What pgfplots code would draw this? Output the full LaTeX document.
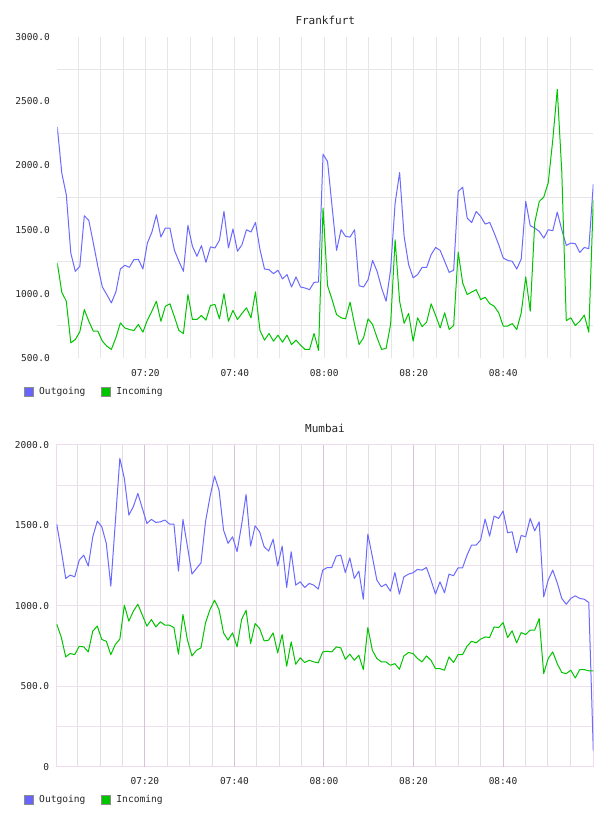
\documentclass[border=0pt]{standalone}
\usepackage{pgfplots}
\usepackage{pgfplotstable}
\pgfplotsset{compat=1.18}
\usepackage{fontspec}
\setmainfont{DejaVu Sans Mono}
\definecolor{outblue}{HTML}{6A6AFF}
\definecolor{inblue}{HTML}{6666FF}
\definecolor{ingreen}{HTML}{00C400}
\definecolor{gridgray}{HTML}{E6E6E6}
\definecolor{framepink}{HTML}{EEDCEE}
\definecolor{hgridpink}{HTML}{EEE0EE}
\definecolor{vgridgray}{HTML}{E4DEE4}
\definecolor{vmajpurple}{HTML}{D9C2D9}

\pgfplotstableread{
i out in
0 2300 1240
1 1939 1012
2 1771 942
3 1317 618
4 1175 644
5 1214 704
6 1608 877
7 1571 786
8 1395 709
9 1214 709
10 1053 631
11 993 592
12 929 567
13 1014 657
14 1193 773
15 1222 734
16 1206 722
17 1266 714
18 1268 761
19 1193 701
20 1395 795
21 1480 865
22 1615 942
23 1442 786
24 1512 903
25 1512 922
26 1339 821
27 1253 714
28 1175 691
29 1533 994
30 1370 800
31 1292 800
32 1375 831
33 1245 795
34 1365 909
35 1357 917
36 1417 805
37 1642 1001
38 1357 786
39 1505 871
40 1331 800
41 1382 847
42 1499 891
43 1481 813
44 1556 1014
45 1344 714
46 1193 639
47 1188 691
48 1157 631
49 1183 678
50 1116 623
51 1150 678
52 1053 605
53 1131 639
54 1053 600
55 1045 567
56 1032 567
57 1089 691
58 1092 559
59 2087 1668
60 2030 1063
61 1680 955
62 1338 838
63 1499 813
64 1447 805
65 1442 935
66 1499 761
67 1063 605
68 1053 657
69 1110 805
70 1260 761
71 1175 657
72 1045 567
73 942 575
74 1188 761
75 1706 1421
76 1944 942
77 1447 770
78 1227 847
79 1124 631
80 1150 813
81 1206 744
82 1206 780
83 1305 922
84 1361 831
85 1338 734
86 1253 852
87 1167 722
88 1183 753
89 1797 1325
90 1830 1084
91 1589 994
92 1555 1014
93 1641 1032
94 1602 955
95 1543 973
96 1556 924
97 1473 903
98 1382 852
99 1279 749
100 1260 749
101 1253 768
102 1193 722
103 1271 852
104 1719 1131
105 1530 865
106 1512 1555
107 1486 1719
108 1434 1753
109 1499 1866
110 1491 2198
111 1636 2592
112 1499 1952
113 1377 791
114 1395 813
115 1390 753
116 1322 786
117 1361 834
118 1351 701
119 1854 1732
}\frankfurt

\pgfplotstableread{
i out in
0 1509 887
1 1347 808
2 1171 684
3 1192 705
4 1181 698
5 1285 750
6 1316 746
7 1248 715
8 1430 844
9 1527 875
10 1492 792
11 1389 781
12 1123 698
13 1520 761
14 1917 794
15 1793 1005
16 1565 906
17 1617 968
18 1699 1011
19 1606 943
20 1513 875
21 1538 916
22 1519 870
23 1523 902
24 1534 881
25 1509 881
26 1509 866
27 1217 701
28 1538 947
29 1368 788
30 1198 690
31 1233 725
32 1268 740
33 1523 895
34 1679 978
35 1807 1036
36 1720 978
37 1472 833
38 1389 788
39 1430 833
40 1337 746
41 1503 916
42 1693 974
43 1372 767
44 1498 891
45 1461 860
46 1368 783
47 1341 788
48 1415 833
49 1248 709
50 1372 823
51 1115 626
52 1337 777
53 1130 638
54 1150 678
55 1115 649
56 1140 663
57 1130 653
58 1105 647
59 1223 715
60 1239 719
61 1239 715
62 1310 746
63 1316 740
64 1208 669
65 1299 701
66 1171 663
67 1217 694
68 1042 605
69 1447 866
70 1306 725
71 1161 674
72 1119 653
73 1136 653
74 1092 632
75 1208 642
76 1074 607
77 1181 690
78 1198 711
79 1206 705
80 1227 674
81 1223 653
82 1239 690
83 1161 663
84 1074 611
85 1150 611
86 1082 601
87 1198 684
88 1188 649
89 1237 698
90 1237 698
91 1316 750
92 1378 781
93 1378 771
94 1409 794
95 1540 808
96 1434 804
97 1559 870
98 1544 866
99 1590 897
100 1455 804
101 1461 846
102 1331 771
103 1438 835
104 1430 823
105 1544 850
106 1467 850
107 1523 922
108 1057 580
109 1161 674
110 1223 715
111 1144 642
112 1047 587
113 1011 580
114 1047 601
115 1063 553
116 1047 605
117 1042 605
118 1022 597
119 99 597
}\mumbai

\pgfplotsset{
  chartbase/.style={
    scale only axis,
    xmin=0, xmax=119,
    tick style={draw=none},
    major tick length=0pt, minor tick length=0pt,
    xtick={4.67,9.63,14.60,24.53,29.49,34.45,44.38,49.35,54.31,64.24,69.20,74.17,84.09,89.06,94.02,103.95,108.91,113.88},
    xticklabels={,,,,,,,,,,,,,,,,,},
    extra x ticks={19.56,39.42,59.27,79.13,98.99},
    extra x tick labels={07:20,07:40,08:00,08:20,08:40},
    xmajorgrids,
    yminorgrids,
    ymajorgrids=false,
    ticklabel style={font=\fontsize{9.5}{10}\selectfont, text=black!85, inner sep=0pt},
    yticklabel style={anchor=east, xshift=-7.3pt},
    xticklabel style={anchor=base, yshift=-18.5pt},
    title style={font=\fontsize{11}{12}\selectfont, anchor=base, at={(0.5,1)}, yshift=6.5pt, text=black!85},
    legend columns=2,
    legend cell align=left,
    legend style={draw=none, fill=none, anchor=west, inner sep=0pt,
      font=\fontsize{9.6}{10}\selectfont, text=black!85,
      nodes={inner sep=0pt},
      /tikz/every odd column/.append style={column sep=5pt},
      /tikz/every even column/.append style={column sep=16pt}},
    outline/.style={line width=1pt, color=outblue, line join=round,
      legend image code/.code={\draw[line width=1pt, draw=black!45, fill=inblue] (0.5pt,-4.5pt) rectangle (9.5pt,4.5pt);}},
    inline/.style={line width=1pt, color=ingreen, line join=round,
      legend image code/.code={\draw[line width=1pt, draw=black!45, fill=ingreen] (0.5pt,-4.5pt) rectangle (9.5pt,4.5pt);}},
  }
}

\begin{document}
\begin{tikzpicture}[x=1pt,y=1pt]
\path[use as bounding box, fill=white] (0,0) rectangle (608,816);

\begin{axis}[chartbase,
  at={(57.3pt,458pt)}, anchor=south west,
  width=536pt, height=321pt,
  ymin=500, ymax=3000,
  axis line style={draw=none},
  ytick={500,1000,1500,2000,2500,3000},
  yticklabels={500.0,1000.0,1500.0,2000.0,2500.0,3000.0},
  minor ytick={750,1250,1750,2250,2750},
  major grid style={color=gridgray, line width=1pt},
  minor grid style={color=gridgray, line width=1pt},
  extra x tick style={major grid style={color=gridgray, line width=1pt}},
  title={Frankfurt},
  legend style={at={(-0.0621,-0.1059)}},
]
\addplot[outline] table[x=i, y=out] {\frankfurt};
\addlegendentry{Outgoing}
\addplot[inline] table[x=i, y=in] {\frankfurt};
\addlegendentry{Incoming}
\end{axis}

\begin{axis}[chartbase,
  at={(56.7pt,49pt)}, anchor=south west,
  width=536.6pt, height=322pt,
  ymin=0, ymax=2000,
  axis line style={draw=framepink, line width=1pt},
  ytick={0,500,1000,1500,2000},
  yticklabels={0,500.0,1000.0,1500.0,2000.0},
  minor ytick={250,500,750,1000,1250,1500,1750},
  major grid style={color=vgridgray, line width=1pt},
  minor grid style={color=hgridpink, line width=1pt},
  extra x tick style={major grid style={color=vmajpurple, line width=1pt}, xticklabel style={yshift=1pt}},
  title={Mumbai},
  legend style={at={(-0.0609,-0.1025)}},
]
\addplot[outline] table[x=i, y=out] {\mumbai};
\addlegendentry{Outgoing}
\addplot[inline] table[x=i, y=in] {\mumbai};
\addlegendentry{Incoming}
\end{axis}
\end{tikzpicture}
\end{document}
